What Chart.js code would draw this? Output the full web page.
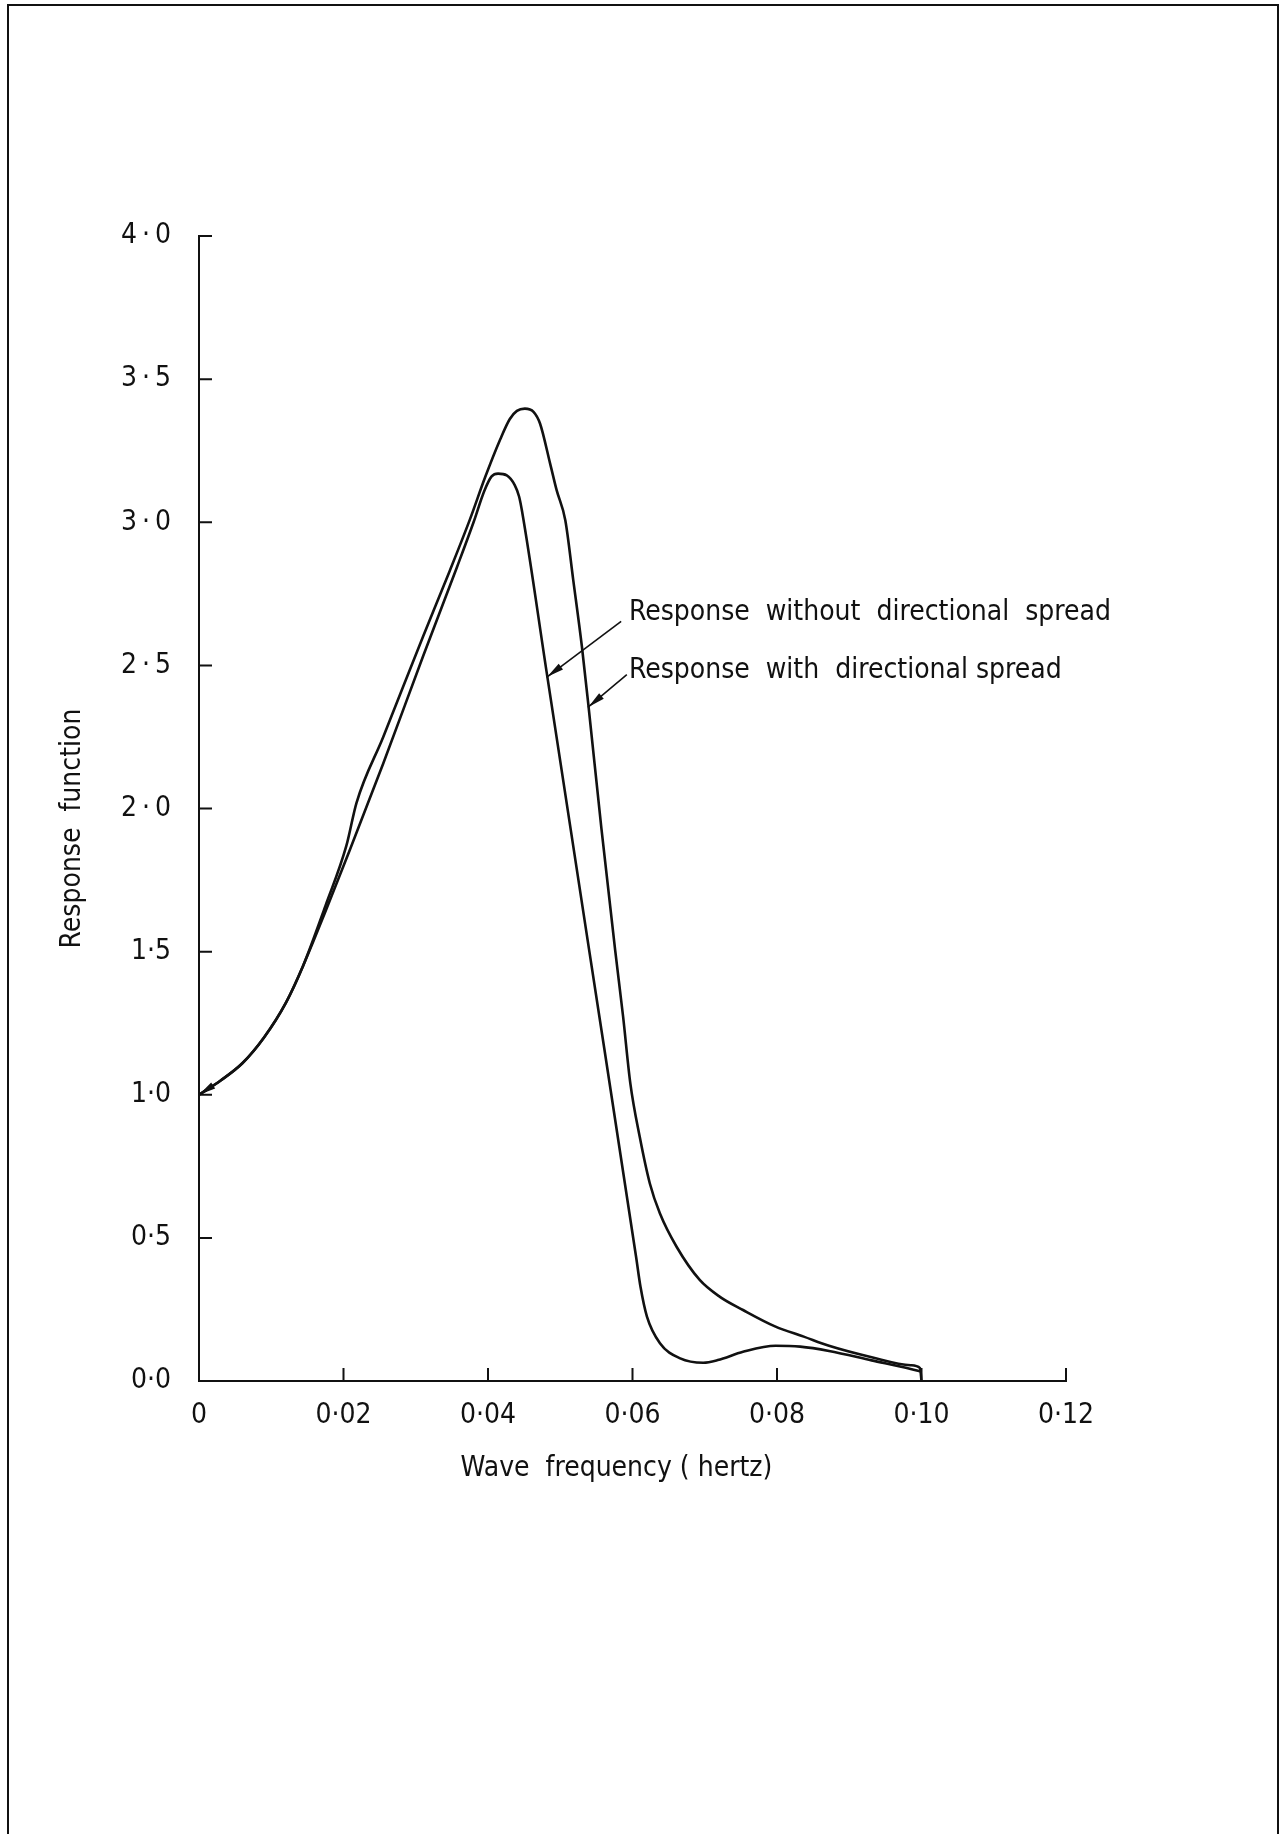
<!DOCTYPE html>
<html>
<head>
<meta charset="utf-8">
<script src="https://cdn.jsdelivr.net/npm/chart.js@4.4.0/dist/chart.umd.min.js"></script>
<style>
    html, body { margin: 0; padding: 0; background: #fff; }
    #wrap { position: relative; width: 1282px; height: 1834px; overflow: hidden; }
    #frame { position: absolute; left: 7px; top: 4px; width: 1272px; height: 1840px;
             box-sizing: border-box; border: 2px solid #111; border-bottom: none; }
    canvas { position: absolute; left: 0; top: 0; }
</style>
</head>
<body>
<div id="wrap">
    <div id="frame"></div>
    <canvas id="chart-response" width="1282" height="1834"></canvas>
</div>
<script>
const FONT = '"DejaVu Sans Condensed", "DejaVu Sans", sans-serif';
const INK = '#111';

// response with directional spread (taller peak)
const withFreq = [0, 0.003, 0.006, 0.009, 0.012, 0.0144, 0.0175, 0.0204, 0.0218, 0.0255,
    0.031, 0.0347, 0.0375, 0.0396, 0.0417, 0.043, 0.044, 0.0451, 0.0463, 0.0472,
    0.0486, 0.0495, 0.0507, 0.0518, 0.053, 0.0539, 0.0557, 0.0576, 0.0587, 0.0597,
    0.061, 0.0624, 0.0638, 0.0661, 0.0693, 0.0721, 0.0753, 0.0798, 0.0837, 0.0872,
    0.0931, 0.0985, 0.0998, 0.1];
const withResp = [1.0, 1.05, 1.11, 1.2, 1.32, 1.45, 1.66, 1.87, 2.02, 2.25,
    2.6, 2.83, 3.01, 3.157, 3.29, 3.36, 3.389, 3.397, 3.386, 3.345,
    3.205, 3.112, 3.007, 2.798, 2.565, 2.36, 1.93, 1.505, 1.273, 1.04,
    0.853, 0.69, 0.585, 0.469, 0.353, 0.294, 0.248, 0.19, 0.155, 0.123,
    0.083, 0.055, 0.045, 0.0];

// response without directional spread (lower peak, dip near 0.07)
const withoutFreq = [0, 0.003, 0.006, 0.009, 0.012, 0.0144, 0.0175, 0.0209, 0.0255, 0.031,
    0.0357, 0.038, 0.0395, 0.0405, 0.0414, 0.0426, 0.0437, 0.0443, 0.0447, 0.0481,
    0.0539, 0.0605, 0.0611, 0.062, 0.0638, 0.0666, 0.0698, 0.0718, 0.0753, 0.0798,
    0.0832, 0.0872, 0.0931, 0.0985, 0.1];
const withoutResp = [1.0, 1.05, 1.11, 1.2, 1.32, 1.45, 1.64, 1.857, 2.157, 2.531,
    2.843, 3.0, 3.11, 3.16, 3.17, 3.164, 3.13, 3.09, 3.04, 2.479,
    1.522, 0.433, 0.33, 0.225, 0.132, 0.079, 0.064, 0.073, 0.102, 0.123,
    0.12, 0.105, 0.072, 0.042, 0.032];

const xTickValues = [0, 0.02, 0.04, 0.06, 0.08, 0.10, 0.12];
const xTickLabels = ['0', '0·02', '0·04', '0·06', '0·08', '0·10', '0·12'];
const yTickValues = [0, 0.5, 1.0, 1.5, 2.0, 2.5, 3.0, 3.5, 4.0];
const yTickLabels = ['0·0', '0·5', '1·0', '1·5', '2\u2009·\u20090', '2\u2009·\u20095',
    '3\u2009·\u20090', '3\u2009·\u20095', '4\u2009·\u20090'];

// labels with leader arrows, in data units [freq, response]
const noteTexts = ['Response  without  directional  spread', 'Response  with  directional spread'];
const notePos = [[0.0595, 2.683], [0.0595, 2.48]];
const leaderFrom = [[0.05834, 2.652], [0.05913, 2.466]];
const leaderTo = [[0.0482, 2.46], [0.0539, 2.355]];

const zip = (xs, ys) => xs.map((x, i) => ({ x, y: ys[i] }));

function arrowHead(ctx, x1, y1, x2, y2) {
    const a = Math.atan2(y2 - y1, x2 - x1);
    const len = 17, half = 3.6;
    ctx.beginPath();
    ctx.moveTo(x2, y2);
    ctx.lineTo(x2 - len * Math.cos(a) + half * Math.sin(a), y2 - len * Math.sin(a) - half * Math.cos(a));
    ctx.lineTo(x2 - len * Math.cos(a) - half * Math.sin(a), y2 - len * Math.sin(a) + half * Math.cos(a));
    ctx.closePath();
    ctx.fill();
}

const drawing = {
    id: 'drawing',
    afterDatasetsDraw(chart) {
        const { ctx, scales: { x, y } } = chart;
        const px = v => x.getPixelForValue(v);
        const py = v => y.getPixelForValue(v);
        ctx.save();
        ctx.strokeStyle = INK;
        ctx.fillStyle = INK;
        ctx.lineCap = 'square';

        // axes with inward ticks
        ctx.lineWidth = 2;
        ctx.beginPath();
        ctx.moveTo(x.left, y.top);
        ctx.lineTo(x.left, y.bottom);
        ctx.lineTo(x.right, y.bottom);
        yTickValues.forEach(v => {
            ctx.moveTo(x.left, py(v));
            ctx.lineTo(x.left + 12, py(v));
        });
        xTickValues.slice(1).forEach(v => {
            ctx.moveTo(px(v), y.bottom);
            ctx.lineTo(px(v), y.bottom - 12);
        });
        ctx.stroke();

        // notes
        ctx.font = '28px ' + FONT;
        ctx.textBaseline = 'middle';
        ctx.textAlign = 'left';
        noteTexts.forEach((t, i) => {
            ctx.fillText(t, px(notePos[i][0]), py(notePos[i][1]));
            const x1 = px(leaderFrom[i][0]), y1 = py(leaderFrom[i][1]);
            const x2 = px(leaderTo[i][0]), y2 = py(leaderTo[i][1]);
            ctx.lineWidth = 1.6;
            ctx.beginPath();
            ctx.moveTo(x1, y1);
            ctx.lineTo(x2, y2);
            ctx.stroke();
            arrowHead(ctx, x1, y1, x2, y2);
        });

        // arrow where the curves meet the response axis
        arrowHead(ctx, px(withFreq[1]), py(withResp[1]), px(withFreq[0]), py(withResp[0]));
        ctx.restore();
    }
};

new Chart(document.getElementById('chart-response'), {
    type: 'line',
    data: {
        datasets: [
            {
                label: 'Response with directional spread',
                data: zip(withFreq, withResp),
                borderColor: INK,
                borderWidth: 2.6,
                pointRadius: 0,
                cubicInterpolationMode: 'monotone',
                clip: 6,
            },
            {
                label: 'Response without directional spread',
                data: zip(withoutFreq, withoutResp),
                borderColor: INK,
                borderWidth: 2.6,
                pointRadius: 0,
                cubicInterpolationMode: 'monotone',
                clip: 6,
            },
        ],
    },
    options: {
        responsive: false,
        animation: false,
        layout: { padding: { left: 40, top: 236, right: 216, bottom: 343 } },
        plugins: {
            legend: { display: false },
            tooltip: { enabled: false },
        },
        scales: {
            x: {
                type: 'linear',
                min: 0,
                max: 0.12,
                grid: { display: false, drawTicks: false },
                border: { display: false },
                afterBuildTicks: s => { s.ticks = xTickValues.map(value => ({ value })); },
                afterFit: s => { s.height = 110; },
                ticks: {
                    color: INK,
                    padding: 18,
                    autoSkip: false,
                    maxRotation: 0,
                    font: { family: FONT, size: 28 },
                    callback: (v, i) => xTickLabels[i],
                },
                title: {
                    display: true,
                    // trailing spaces nudge the centred title to the left, as in the original
                    text: 'Wave  frequency ( hertz)    ',
                    color: INK,
                    padding: { top: 0, bottom: 5 },
                    font: { family: FONT, size: 28 },
                },
            },
            y: {
                type: 'linear',
                min: 0,
                max: 4,
                grid: { display: false, drawTicks: false },
                border: { display: false },
                afterBuildTicks: s => { s.ticks = yTickValues.map(value => ({ value })); },
                afterFit: s => { s.width = 159; },
                ticks: {
                    color: INK,
                    padding: 28,
                    autoSkip: false,
                    font: { family: FONT, size: 28 },
                    callback: (v, i) => yTickLabels[i],
                },
                title: {
                    display: true,
                    text: 'Response  function     ',
                    color: INK,
                    padding: { top: 16, bottom: 0 },
                    font: { family: FONT, size: 28 },
                },
            },
        },
    },
    plugins: [drawing],
});
</script>
</body>
</html>
